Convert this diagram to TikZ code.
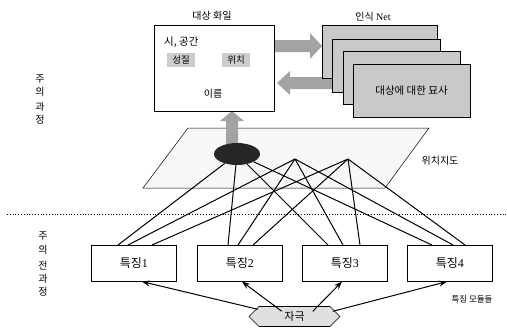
\documentclass[tikz,border=0pt]{standalone}
\usepackage{fontspec}
\setmainfont{Liberation Serif}
\newfontfamily\kr{Noto Sans CJK KR}
\usetikzlibrary{shapes.misc,shapes.geometric,calc,arrows.meta}
\begin{document}
\begin{tikzpicture}[x=1pt,y=-1pt,
  featbox/.style={draw,line width=0.6pt,fill=white,minimum width=85pt,minimum height=36pt,inner sep=0pt,font=\fontsize{12}{13}\selectfont},
  card/.style={draw,line width=0.6pt,fill=gray!42},
  gbox/.style={fill=gray!40,minimum width=28pt,minimum height=14pt,inner sep=0pt,font=\kr\fontsize{9.5}{10}\selectfont},
  link/.style={line width=1pt},
  stimarrow/.style={line width=1pt,-{Stealth[length=8pt,width=6pt]}},
  lbl/.style={font=\kr\fontsize{10}{11}\selectfont,inner sep=0pt},
  vch/.style={font=\kr\fontsize{10}{11}\selectfont,inner sep=0pt}]
\useasboundingbox (0,0) rectangle (507,335);
\fill[white] (0,0) rectangle (507,335);

% vertical labels
\node[vch] (a1) at (40,79) {주};
\node[vch] (a2) at (40,92) {의};
\node[vch] (a3) at (40,107) {과};
\node[vch] (a4) at (40,120) {정};
\node[vch] (b1) at (43,236) {주};
\node[vch] (b2) at (43,250) {의};
\node[vch] (b3) at (43,266) {전};
\node[vch] (b4) at (43,279) {과};
\node[vch] (b5) at (43,292) {정};

% dotted divider
\coordinate (dl) at (7,214);
\coordinate (dr) at (507,214);
\draw[line width=0.8pt,dotted] (dl) -- (dr);

% location map
\coordinate (m1) at (143,188);
\coordinate (m2) at (385,188);
\coordinate (m3) at (429,128);
\coordinate (m4) at (188,128);
\draw[line width=0.5pt,fill=gray!6] (m1) -- (m2) -- (m3) -- (m4) -- cycle;
\node[lbl] (maplbl) at (440,161) {위치지도};

% up block arrow
\coordinate (ua) at (232,111);
\fill[gray!72] (226,145) -- (226,121) -- (220,121) -- (ua) -- (244,121) -- (238,121) -- (238,145) -- cycle;

% ellipse
\node[ellipse,fill=black!85,minimum width=46pt,minimum height=22pt,inner sep=0pt] (el) at (237,154) {};
\coordinate (p2) at (295,159);
\coordinate (p3) at (348,159);

% feature boxes
\node[featbox,anchor=north west] (f1) at (91,245) {{\kr 특징}1};
\node[featbox,anchor=north west] (f2) at (197,245) {{\kr 특징}2};
\node[featbox,anchor=north west] (f3) at (302,245) {{\kr 특징}3};
\node[featbox,anchor=north west] (f4) at (407,245) {{\kr 특징}4};

% links
\draw[link] (el) -- ($(f1.north west)+(27,0)$);
\draw[link] (p2) -- ($(f1.north west)+(37,0)$);
\draw[link] (p3) -- ($(f1.north west)+(61,0)$);
\draw[link] (el) -- ($(f2.north west)+(31,0)$);
\draw[link] (p2) -- ($(f2.north west)+(41,0)$);
\draw[link] (p3) -- ($(f2.north west)+(56,0)$);
\draw[link] (el) -- ($(f3.north west)+(26,0)$);
\draw[link] (p2) -- ($(f3.north west)+(41,0)$);
\draw[link] (p3) -- ($(f3.north west)+(58,0)$);
\draw[link] (el) -- ($(f4.north west)+(25,0)$);
\draw[link] (p2) -- ($(f4.north west)+(46,0)$);
\draw[link] (p3) -- ($(f4.north west)+(58,0)$);

% stimulus
\node[chamfered rectangle,chamfered rectangle xsep=5pt,chamfered rectangle ysep=5pt,draw,line width=0.6pt,fill=gray!25,minimum width=91pt,minimum height=19pt,inner sep=0pt,font=\kr\fontsize{11}{12}\selectfont] (stim) at (294.5,316.5) {자극};
\draw[stimarrow] ($(stim.north west)+(4,-2)$) -- ($(f1.south west)+(51,0)$);
\draw[stimarrow] ($(stim.north west)+(28,0)$) -- ($(f2.south west)+(45,0)$);
\draw[stimarrow] ($(stim.north west)+(59,0)$) -- ($(f3.south west)+(40,0)$);
\draw[stimarrow] ($(stim.north west)+(79,0)$) -- ($(f4.south west)+(40,0)$);
\node[lbl,font=\kr\fontsize{8.5}{9}\selectfont] (modlbl) at (472,299) {특징 모듈들};

% object file
\node[lbl] (oftitle) at (212,16) {대상 화일};
\node[draw,line width=0.6pt,fill=white,minimum width=120pt,minimum height=86pt,inner sep=0pt,anchor=north west] (of) at (154,25) {};
\node[lbl,font=\kr\fontsize{10.5}{11}\selectfont,anchor=west] (st) at (164,42) {시, 공간};
\node[gbox] (prop) at (181,60) {성질};
\node[gbox] (loc) at (236,60) {위치};
\node[lbl] (name) at (213,94) {이름};

% block arrows to/from recognition net
\coordinate (ra) at (322,46);
\coordinate (la) at (277,83);
\fill[gray!72] (275,40) -- (310,40) -- (310,33) -- (ra) -- (310,59) -- (310,52) -- (275,52) -- cycle;
\fill[gray!72] (340,77) -- (290,77) -- (290,71) -- (la) -- (290,95) -- (290,89) -- (340,89) -- cycle;

% recognition net cards
\node[font=\fontsize{10}{11}\selectfont,inner sep=0pt] (rntitle) at (373,17) {{\kr 인식} Net};
\draw[card] (322,25) rectangle (437,78);
\draw[card] (332,39) rectangle (440,92);
\draw[card] (343,51) rectangle (460,104);
\draw[card] (353,64) rectangle (470,117);
\node[lbl,font=\kr\fontsize{10.5}{11}\selectfont] (desc) at (411.5,91) {대상에 대한 묘사};
\end{tikzpicture}
\end{document}
